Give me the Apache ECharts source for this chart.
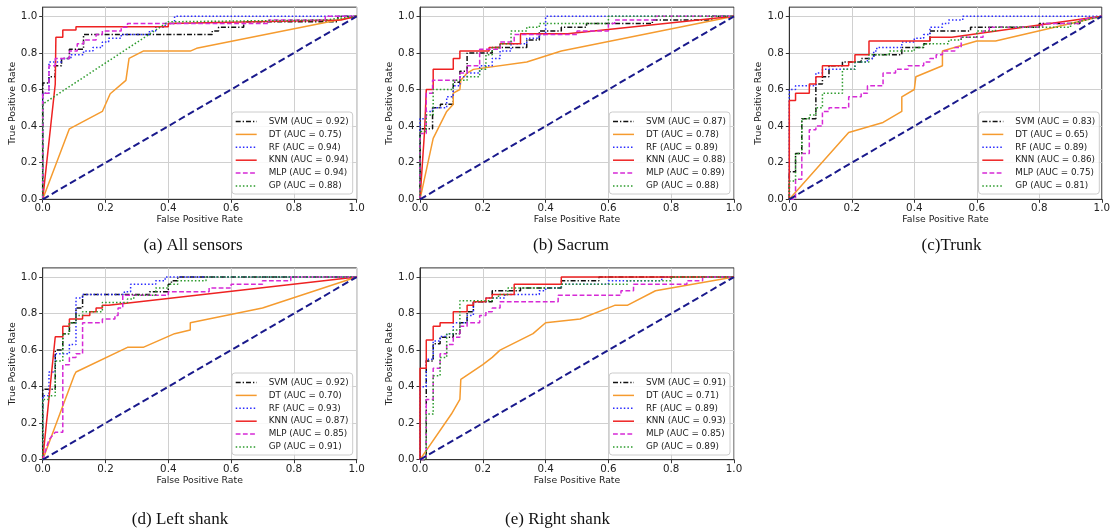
<!DOCTYPE html>
<html>
<head>
<meta charset="utf-8">
<script src="https://cdn.jsdelivr.net/npm/echarts@6/dist/echarts.min.js"></script>
<style>html,body{margin:0;padding:0;background:#fff}#chart{width:1113px;height:531px}</style>
</head>
<body>
<div id="chart"></div>
<script>
// ---------- DATA ----------
const models = ['SVM', 'DT', 'RF', 'KNN', 'MLP', 'GP'];
const captions = ['(a) All sensors', '(b) Sacrum', '(c)Trunk', '(d) Left shank', '(e) Right shank'];
const xTicks = [0, 0.2, 0.4, 0.6, 0.8, 1.0];
const yTicks = [0, 0.2, 0.4, 0.6, 0.8, 1.0];
const chance = [[0, 0], [1, 1]];

// (a) All sensors
const aucA = [0.92, 0.75, 0.94, 0.94, 0.94, 0.88];
const a_SVM = [[0,0],[0,0.635],[0.02,0.635],[0.02,0.67],[0.04,0.67],[0.04,0.73],[0.06,0.73],[0.06,0.77],[0.085,0.77],[0.085,0.82],[0.13,0.82],[0.13,0.90],[0.54,0.90],[0.54,0.92],[0.56,0.92],[0.56,0.94],[0.64,0.94],[0.64,0.97],[0.94,0.97],[0.94,1],[1,1]];
const a_DT = [[0,0],[0.085,0.385],[0.19,0.48],[0.215,0.577],[0.265,0.65],[0.275,0.77],[0.32,0.81],[0.47,0.81],[0.49,0.825],[1,1]];
const a_RF = [[0,0],[0,0.58],[0.02,0.58],[0.02,0.75],[0.06,0.75],[0.06,0.77],[0.09,0.77],[0.09,0.79],[0.13,0.79],[0.13,0.81],[0.16,0.81],[0.16,0.83],[0.19,0.83],[0.19,0.86],[0.21,0.86],[0.21,0.88],[0.25,0.88],[0.25,0.90],[0.34,0.90],[0.34,0.92],[0.36,0.92],[0.36,0.94],[0.39,0.94],[0.39,0.96],[0.42,0.96],[0.42,1.0],[1,1]];
const a_KNN = [[0,0],[0.04,0.63],[0.042,0.885],[0.064,0.885],[0.064,0.925],[0.106,0.925],[0.106,0.943],[0.40,0.943],[0.40,0.96],[0.95,0.98],[1,1]];
const a_MLP = [[0,0],[0,0.58],[0.02,0.58],[0.02,0.73],[0.04,0.73],[0.04,0.77],[0.085,0.77],[0.085,0.81],[0.11,0.81],[0.11,0.85],[0.13,0.85],[0.13,0.87],[0.17,0.87],[0.17,0.90],[0.19,0.90],[0.19,0.92],[0.25,0.92],[0.25,0.94],[0.27,0.94],[0.27,0.96],[0.72,0.96],[0.72,0.98],[0.9,0.98],[0.9,1],[1,1]];
const a_GP = [[0,0],[0,0.52],[0.40,0.97],[0.9,0.98],[1,1]];

// (b) Sacrum
const aucB = [0.87, 0.78, 0.89, 0.88, 0.89, 0.88];
const b_SVM = [[0,0],[0,0.385],[0.04,0.385],[0.04,0.50],[0.065,0.50],[0.065,0.52],[0.106,0.52],[0.106,0.64],[0.127,0.64],[0.127,0.70],[0.15,0.70],[0.15,0.80],[0.23,0.80],[0.23,0.83],[0.34,0.83],[0.34,0.87],[0.38,0.87],[0.38,0.92],[0.45,0.92],[0.45,0.94],[0.53,0.94],[0.53,0.96],[0.74,0.96],[0.74,0.98],[0.93,0.98],[0.93,1.0],[1,1]];
const b_DT = [[0,0],[0.042,0.333],[0.085,0.48],[0.106,0.52],[0.106,0.58],[0.127,0.60],[0.13,0.65],[0.15,0.69],[0.17,0.71],[0.34,0.75],[0.45,0.81],[1,1]];
const b_RF = [[0,0],[0,0.44],[0.02,0.44],[0.02,0.48],[0.04,0.48],[0.04,0.50],[0.085,0.50],[0.085,0.56],[0.106,0.56],[0.106,0.62],[0.127,0.62],[0.127,0.67],[0.15,0.67],[0.15,0.69],[0.19,0.69],[0.19,0.73],[0.23,0.73],[0.23,0.77],[0.255,0.77],[0.255,0.81],[0.29,0.81],[0.29,0.85],[0.34,0.85],[0.34,0.88],[0.38,0.88],[0.38,0.90],[0.40,0.90],[0.40,1.0],[1,1]];
const b_KNN = [[0,0],[0.015,0.385],[0.02,0.385],[0.02,0.60],[0.042,0.60],[0.042,0.71],[0.106,0.71],[0.106,0.77],[0.127,0.77],[0.127,0.81],[0.22,0.81],[0.22,0.83],[0.255,0.83],[0.255,0.85],[0.32,0.85],[0.32,0.905],[0.47,0.905],[1,1]];
const b_MLP = [[0,0],[0,0.36],[0.02,0.36],[0.02,0.58],[0.04,0.58],[0.04,0.65],[0.127,0.65],[0.127,0.69],[0.15,0.69],[0.15,0.73],[0.19,0.73],[0.19,0.82],[0.255,0.82],[0.255,0.86],[0.30,0.86],[0.30,0.90],[0.50,0.90],[0.50,0.92],[0.60,0.92],[0.60,0.96],[0.62,0.96],[0.62,0.98],[0.75,0.98],[0.75,1.0],[1,1]];
const b_GP = [[0,0],[0,0.37],[0.02,0.37],[0.02,0.46],[0.042,0.46],[0.042,0.60],[0.106,0.60],[0.106,0.65],[0.15,0.65],[0.15,0.67],[0.19,0.67],[0.19,0.71],[0.21,0.71],[0.21,0.79],[0.23,0.79],[0.23,0.83],[0.255,0.83],[0.255,0.85],[0.29,0.85],[0.29,0.92],[0.34,0.92],[0.34,0.94],[0.38,0.94],[0.38,0.96],[0.6,0.96],[0.6,1.0],[1,1]];

// (c) Trunk
const aucC = [0.83, 0.65, 0.89, 0.86, 0.75, 0.81];
const c_SVM = [[0,0],[0,0.15],[0.02,0.15],[0.02,0.25],[0.04,0.25],[0.04,0.44],[0.085,0.44],[0.085,0.63],[0.106,0.63],[0.106,0.67],[0.127,0.67],[0.127,0.73],[0.17,0.73],[0.17,0.75],[0.23,0.75],[0.23,0.77],[0.27,0.77],[0.27,0.79],[0.36,0.79],[0.36,0.83],[0.43,0.83],[0.43,0.85],[0.45,0.85],[0.45,0.92],[0.58,0.92],[0.58,0.94],[0.80,0.94],[0.80,0.96],[0.93,0.96],[0.93,0.98],[1,1]];
const c_DT = [[0,0],[0.19,0.365],[0.30,0.42],[0.36,0.48],[0.36,0.56],[0.40,0.60],[0.405,0.67],[0.49,0.73],[0.49,0.81],[0.60,0.865],[0.66,0.865],[1,1]];
const c_RF = [[0,0],[0,0.60],[0.02,0.60],[0.02,0.62],[0.085,0.62],[0.085,0.69],[0.106,0.69],[0.106,0.71],[0.21,0.71],[0.21,0.75],[0.25,0.75],[0.25,0.77],[0.27,0.77],[0.27,0.81],[0.28,0.81],[0.28,0.83],[0.36,0.83],[0.36,0.86],[0.40,0.86],[0.40,0.88],[0.43,0.88],[0.43,0.90],[0.45,0.90],[0.45,0.94],[0.49,0.94],[0.49,0.96],[0.51,0.96],[0.51,0.98],[0.555,0.98],[0.555,1.0],[1,1]];
const c_KNN = [[0,0],[0,0.54],[0.02,0.54],[0.02,0.58],[0.064,0.58],[0.064,0.63],[0.085,0.63],[0.085,0.67],[0.106,0.67],[0.106,0.73],[0.19,0.73],[0.19,0.75],[0.21,0.75],[0.21,0.79],[0.255,0.79],[0.255,0.865],[0.45,0.865],[0.45,0.885],[0.52,0.885],[1,1]];
const c_MLP = [[0,0],[0.02,0],[0.02,0.11],[0.04,0.11],[0.04,0.25],[0.064,0.25],[0.064,0.38],[0.085,0.38],[0.085,0.40],[0.106,0.40],[0.106,0.48],[0.127,0.48],[0.127,0.50],[0.19,0.50],[0.19,0.56],[0.23,0.56],[0.23,0.58],[0.25,0.58],[0.25,0.62],[0.30,0.62],[0.30,0.69],[0.34,0.69],[0.34,0.71],[0.38,0.71],[0.38,0.73],[0.43,0.73],[0.43,0.75],[0.45,0.75],[0.45,0.77],[0.47,0.77],[0.47,0.79],[0.49,0.79],[0.49,0.81],[0.53,0.81],[0.53,0.83],[0.55,0.83],[0.55,0.885],[0.62,0.885],[0.62,0.92],[0.64,0.92],[0.64,0.94],[0.81,0.94],[0.81,0.96],[0.93,0.96],[0.93,0.98],[1,1]];
const c_GP = [[0,0],[0,0.10],[0.02,0.10],[0.02,0.25],[0.04,0.25],[0.04,0.44],[0.064,0.44],[0.064,0.46],[0.085,0.46],[0.085,0.50],[0.106,0.50],[0.106,0.58],[0.17,0.58],[0.17,0.71],[0.21,0.71],[0.21,0.75],[0.255,0.75],[0.255,0.79],[0.32,0.79],[0.32,0.81],[0.40,0.81],[0.40,0.83],[0.43,0.83],[0.43,0.85],[0.51,0.85],[0.51,0.87],[0.55,0.87],[0.55,0.885],[0.60,0.885],[0.60,0.92],[0.66,0.92],[0.66,0.94],[0.9,0.94],[0.9,0.96],[1,1]];

// (d) Left shank
const aucD = [0.92, 0.70, 0.93, 0.87, 0.85, 0.91];
const d_SVM = [[0,0],[0,0.385],[0.04,0.385],[0.04,0.60],[0.064,0.60],[0.064,0.69],[0.085,0.69],[0.085,0.75],[0.106,0.75],[0.106,0.83],[0.127,0.83],[0.127,0.905],[0.34,0.905],[0.34,0.92],[0.40,0.92],[0.40,0.96],[0.41,0.96],[0.41,0.98],[0.43,0.98],[0.43,1.0],[1,1]];
const d_DT = [[0,0],[0.10,0.46],[0.106,0.48],[0.27,0.615],[0.32,0.615],[0.42,0.69],[0.47,0.71],[0.47,0.75],[0.70,0.83],[1,1]];
const d_RF = [[0,0],[0,0.35],[0.02,0.35],[0.02,0.48],[0.04,0.48],[0.04,0.58],[0.085,0.58],[0.085,0.63],[0.106,0.63],[0.106,0.885],[0.127,0.885],[0.127,0.905],[0.26,0.905],[0.26,0.92],[0.28,0.92],[0.28,0.96],[0.36,0.96],[0.36,0.98],[0.39,0.98],[0.39,1.0],[1,1]];
const d_KNN = [[0,0],[0.04,0.673],[0.064,0.673],[0.064,0.73],[0.085,0.73],[0.085,0.77],[0.127,0.77],[0.127,0.79],[0.15,0.79],[0.15,0.81],[0.17,0.81],[0.17,0.83],[0.19,0.83],[0.19,0.845],[0.21,0.845],[1,1]];
const d_MLP = [[0,0],[0.02,0.11],[0.04,0.15],[0.064,0.15],[0.064,0.52],[0.085,0.52],[0.085,0.56],[0.106,0.56],[0.106,0.58],[0.127,0.58],[0.127,0.75],[0.19,0.75],[0.19,0.77],[0.23,0.77],[0.23,0.79],[0.24,0.79],[0.24,0.83],[0.255,0.83],[0.255,0.90],[0.40,0.90],[0.40,0.92],[0.53,0.92],[0.53,0.94],[0.60,0.94],[0.60,0.96],[0.70,0.96],[0.70,0.98],[0.79,0.98],[0.79,1.0],[1,1]];
const d_GP = [[0,0],[0,0.33],[0.02,0.33],[0.02,0.35],[0.04,0.35],[0.04,0.54],[0.064,0.54],[0.064,0.69],[0.085,0.69],[0.085,0.75],[0.106,0.75],[0.106,0.79],[0.127,0.79],[0.127,0.81],[0.19,0.81],[0.19,0.86],[0.27,0.86],[0.27,0.88],[0.29,0.88],[0.29,0.90],[0.36,0.90],[0.36,0.94],[0.40,0.94],[0.40,0.96],[0.43,0.96],[0.43,0.98],[0.52,0.98],[0.52,1.0],[1,1]];

// (e) Right shank
const aucE = [0.91, 0.71, 0.89, 0.93, 0.85, 0.89];
const e_SVM = [[0,0],[0.02,0],[0.02,0.54],[0.042,0.54],[0.042,0.635],[0.064,0.635],[0.064,0.67],[0.106,0.67],[0.106,0.69],[0.127,0.69],[0.127,0.75],[0.15,0.75],[0.15,0.81],[0.17,0.81],[0.17,0.865],[0.23,0.865],[0.23,0.925],[0.32,0.925],[0.32,0.94],[0.45,0.94],[0.45,0.98],[0.57,0.98],[0.57,1.0],[1,1]];
const e_DT = [[0,0],[0.10,0.25],[0.127,0.33],[0.13,0.44],[0.20,0.52],[0.23,0.56],[0.255,0.60],[0.36,0.69],[0.40,0.75],[0.51,0.77],[0.62,0.845],[0.66,0.845],[0.75,0.925],[1,1]];
const e_RF = [[0,0],[0,0.40],[0.02,0.40],[0.02,0.55],[0.042,0.55],[0.042,0.65],[0.064,0.65],[0.064,0.675],[0.085,0.675],[0.085,0.69],[0.106,0.69],[0.106,0.75],[0.15,0.75],[0.15,0.79],[0.17,0.79],[0.17,0.865],[0.21,0.865],[0.21,0.885],[0.27,0.885],[0.27,0.905],[0.38,0.905],[0.38,0.925],[0.40,0.925],[0.40,0.94],[0.45,0.94],[0.45,0.96],[0.60,0.96],[0.60,0.98],[0.77,0.98],[0.77,1.0],[1,1]];
const e_KNN = [[0,0],[0,0.50],[0.02,0.50],[0.02,0.655],[0.042,0.655],[0.042,0.73],[0.064,0.73],[0.064,0.75],[0.106,0.75],[0.106,0.81],[0.15,0.81],[0.15,0.845],[0.17,0.845],[0.17,0.865],[0.21,0.865],[0.21,0.885],[0.23,0.885],[0.23,0.905],[0.30,0.905],[0.30,0.96],[0.45,0.96],[0.45,1.0],[1,1]];
const e_MLP = [[0,0],[0.02,0],[0.02,0.33],[0.042,0.33],[0.042,0.50],[0.064,0.50],[0.064,0.58],[0.085,0.58],[0.085,0.63],[0.106,0.63],[0.106,0.67],[0.127,0.67],[0.127,0.73],[0.15,0.73],[0.15,0.75],[0.19,0.75],[0.19,0.79],[0.21,0.79],[0.21,0.81],[0.23,0.81],[0.23,0.83],[0.255,0.83],[0.255,0.865],[0.44,0.865],[0.44,0.90],[0.64,0.90],[0.64,0.925],[0.68,0.925],[0.68,0.96],[0.85,0.96],[0.85,0.98],[0.9,0.98],[0.9,1.0],[1,1]];
const e_GP = [[0,0],[0.02,0],[0.02,0.25],[0.042,0.25],[0.042,0.46],[0.064,0.46],[0.064,0.56],[0.085,0.56],[0.085,0.69],[0.106,0.69],[0.106,0.71],[0.127,0.71],[0.127,0.87],[0.23,0.87],[0.23,0.885],[0.25,0.885],[0.25,0.905],[0.28,0.905],[0.28,0.94],[0.45,0.94],[0.45,0.96],[0.66,0.96],[0.66,0.98],[0.80,0.98],[0.80,1.0],[1,1]];

// ---------- LAYOUT / STYLE ----------
const panelCurves = [
  [a_SVM, a_DT, a_RF, a_KNN, a_MLP, a_GP],
  [b_SVM, b_DT, b_RF, b_KNN, b_MLP, b_GP],
  [c_SVM, c_DT, c_RF, c_KNN, c_MLP, c_GP],
  [d_SVM, d_DT, d_RF, d_KNN, d_MLP, d_GP],
  [e_SVM, e_DT, e_RF, e_KNN, e_MLP, e_GP]
];
const panelAuc = [aucA, aucB, aucC, aucD, aucE];
const gridBoxes = [
  {left: 42.7, top: 7.15, width: 314, height: 192.15},
  {left: 420, top: 7.15, width: 314, height: 192.15},
  {left: 789.3, top: 7.15, width: 314, height: 192.15},
  {left: 42.7, top: 267.9, width: 314, height: 191.8},
  {left: 420, top: 267.9, width: 314, height: 191.8}
];
const legendPos = [
  {right: 760.3, top: 112}, {right: 383, top: 112}, {right: 13.7, top: 112},
  {right: 760.3, top: 373}, {right: 383, top: 373}
];
const captionPos = [[193, 245.5], [571, 245.5], [951.5, 245.5], [180, 520], [557.5, 520]];
const styles = {
  SVM: {color: '#111111', type: [5, 2, 1.3, 2]},
  DT: {color: '#f59b2f', type: 'solid'},
  RF: {color: '#2b2bff', type: [1.5, 2.1]},
  KNN: {color: '#ee2222', type: 'solid'},
  MLP: {color: '#d62ad6', type: [4.8, 2.4]},
  GP: {color: '#2a9a2a', type: [1.5, 2.1]}
};
const FONT = '"DejaVu Sans", sans-serif';
const LW = 1.5;

const grid = [], xAxis = [], yAxis = [], series = [], legend = [], graphic = [];
gridBoxes.forEach((g, i) => {
  grid.push(Object.assign({show: true, borderColor: '#333', borderWidth: 1, backgroundColor: '#fff', containLabel: false}, g));
  xAxis.push({
    type: 'value', gridIndex: i, min: 0, max: 1, interval: 0.2,
    name: 'False Positive Rate', nameLocation: 'middle', nameGap: 16,
    nameTextStyle: {fontSize: 9.3, color: '#222', fontFamily: FONT},
    axisLine: {show: true, onZero: false, lineStyle: {color: '#333', width: 1}},
    axisTick: {show: true, inside: false, length: 3.5, lineStyle: {color: '#333'}},
    axisLabel: {fontSize: 10.3, color: '#222', fontFamily: FONT, margin: 4.5, formatter: v => v.toFixed(1)},
    splitLine: {show: true, lineStyle: {color: '#d0d0d0', width: 1}}
  });
  yAxis.push({
    type: 'value', gridIndex: i, min: 0, max: 1.05, interval: 0.2,
    name: 'True Positive Rate', nameLocation: 'middle', nameGap: 25,
    nameTextStyle: {fontSize: 9.3, color: '#222', fontFamily: FONT},
    axisLine: {show: true, onZero: false, lineStyle: {color: '#333', width: 1}},
    axisTick: {show: true, inside: false, length: 3.5, lineStyle: {color: '#333'}, customValues: yTicks},
    axisLabel: {fontSize: 10.3, color: '#222', fontFamily: FONT, margin: 5.5, customValues: yTicks,
      formatter: v => (v > 1.001 ? '' : v.toFixed(1))},
    splitLine: {show: true, lineStyle: {color: '#d0d0d0', width: 1}}
  });
  const names = [];
  models.forEach((m, k) => {
    const nm = m + ' (AUC = ' + panelAuc[i][k].toFixed(2) + ')';
    names.push(nm);
    series.push({
      type: 'line', name: nm, xAxisIndex: i, yAxisIndex: i,
      data: panelCurves[i][k], symbol: 'none', showSymbol: false, smooth: false,
      lineStyle: {color: styles[m].color, type: styles[m].type, width: LW},
      itemStyle: {color: styles[m].color},
      silent: true, animation: false, z: 2 + k
    });
  });
  series.push({
    type: 'line', name: 'chance' + i, xAxisIndex: i, yAxisIndex: i, data: chance,
    symbol: 'none', showSymbol: false,
    lineStyle: {color: '#1a1a8c', type: [7, 3.5], width: 2},
    silent: true, animation: false, z: 9
  });
  legend.push(Object.assign({
    data: names, orient: 'vertical', itemWidth: 21, itemHeight: 10, itemGap: 2.9,
    padding: [4.5, 4, 3, 3], backgroundColor: 'rgba(255,255,255,0.85)',
    borderColor: '#cccccc', borderWidth: 1, borderRadius: 3,
    selectedMode: false,
    itemStyle: {opacity: 0, color: 'rgba(0,0,0,0)', borderWidth: 0},
    lineStyle: {width: LW},
    textStyle: {fontSize: 8.8, color: '#222', fontFamily: FONT, lineHeight: 10, padding: [0, 0, 0, 7]}
  }, legendPos[i]));
  graphic.push({
    type: 'text', x: captionPos[i][0], y: captionPos[i][1], silent: true,
    style: {text: captions[i], align: 'center', verticalAlign: 'middle',
      fontFamily: '"Liberation Serif", "Times New Roman", serif', fontSize: 17, fill: '#111'}
  });
});

const chart = echarts.init(document.getElementById('chart'), null, {renderer: 'canvas'});
chart.setOption({
  animation: false,
  backgroundColor: '#fff',
  textStyle: {fontFamily: FONT},
  grid, xAxis, yAxis, series, legend, graphic
});
</script>
</body>
</html>
